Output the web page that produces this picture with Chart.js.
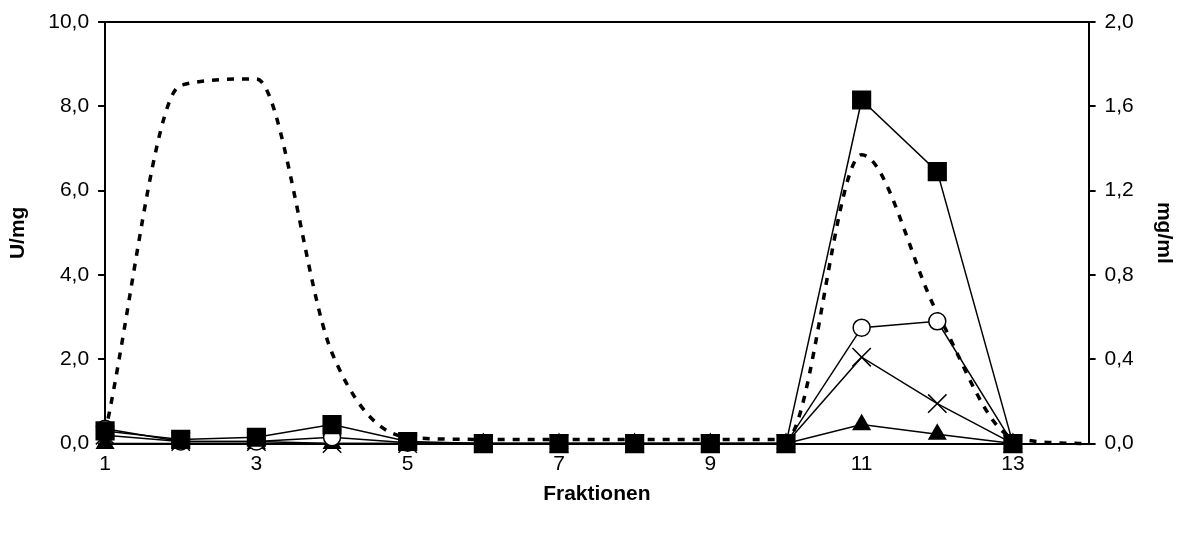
<!DOCTYPE html>
<html>
<head>
<meta charset="utf-8">
<script src="https://cdn.jsdelivr.net/npm/chart.js@4.4.1/dist/chart.umd.min.js"></script>
<style>
    html, body { margin: 0; padding: 0; background: #fff; }
    #wrap { width: 1180px; height: 533px; }
</style>
</head>
<body>
<div id="wrap"><canvas id="fraktChart"></canvas></div>
<script>
// Fraktionen (x values)
const fractions = [1, 2, 3, 4, 5, 6, 7, 8, 9, 10, 11, 12, 13, 14];
const xTicks = [1, 3, 5, 7, 9, 11, 13];

// U/mg (left axis)
const squares   = [0.30, 0.10, 0.15, 0.45, 0.05, 0, 0, 0, 0, 0, 8.15, 6.45, 0];
const circles   = [0.35, 0.05, 0.05, 0.15, 0.02, 0, 0, 0, 0, 0, 2.75, 2.90, 0];
const crosses   = [0.20, 0.05, 0.05, 0.00, 0.00, 0, 0, 0, 0, 0, 2.05, 0.95, 0];
const triangles = [0.00, 0.00, 0.00, 0.00, 0.00, 0, 0, 0, 0, 0, 0.45, 0.22, 0];

// mg/ml (right axis), dashed line
const protein = [0.05, 1.70, 1.73, 0.43, 0.03, 0.02, 0.02, 0.02, 0.02, 0.02, 1.37, 0.62, 0.03, 0];

const toXY = arr => arr.map((v, i) => ({ x: fractions[i], y: v }));
const fmt = d => v => v.toFixed(d).replace('.', ',');

// box line at the top of the plot area
const frame = {
    id: 'frame',
    afterDraw(chart) {
        const a = chart.chartArea, ctx = chart.ctx;
        ctx.save();
        ctx.strokeStyle = '#000';
        ctx.lineWidth = 2;
        ctx.beginPath();
        ctx.moveTo(a.left, a.top);
        ctx.lineTo(a.right, a.top);
        ctx.stroke();
        ctx.restore();
    }
};

Chart.defaults.font.family = '"Liberation Sans", Arial, sans-serif';
Chart.defaults.color = '#000';

const lineBase = {
    borderColor: '#000',
    borderWidth: 1.5,
    pointBorderColor: '#000',
    pointBorderWidth: 1.5,
    yAxisID: 'y',
    tension: 0,
    clip: false
};

new Chart(document.getElementById('fraktChart'), {
    type: 'line',
    data: {
        datasets: [{
            ...lineBase,
            data: toXY(squares),
            pointStyle: 'rect',
            pointRadius: 12.5,
            pointBackgroundColor: '#000'
        }, {
            ...lineBase,
            data: toXY(circles),
            pointStyle: 'circle',
            pointRadius: 8.5,
            pointBackgroundColor: '#fff'
        }, {
            ...lineBase,
            data: toXY(crosses),
            pointStyle: 'crossRot',
            pointRadius: 13,
            pointBackgroundColor: '#000'
        }, {
            ...lineBase,
            data: toXY(triangles),
            pointStyle: 'triangle',
            pointRadius: 9.5,
            pointBackgroundColor: '#000'
        }, {
            ...lineBase,
            data: toXY(protein),
            yAxisID: 'y2',
            borderWidth: 3.5,
            borderDash: [7, 8],
            cubicInterpolationMode: 'monotone',
            pointRadius: 0
        }]
    },
    options: {
        responsive: true,
        maintainAspectRatio: false,
        animation: false,
        layout: { padding: { top: 22, right: 4, left: 6, bottom: 26 } },
        plugins: {
            legend: { display: false },
            tooltip: { enabled: false }
        },
        scales: {
            x: {
                type: 'linear',
                min: 1,
                max: 14,
                afterBuildTicks: axis => { axis.ticks = xTicks.map(v => ({ value: v })); },
                grid: { display: false, drawTicks: false },
                border: { color: '#000', width: 2 },
                ticks: { font: { size: 21 }, padding: 8, callback: v => v },
                title: { display: true, text: 'Fraktionen', font: { size: 21, weight: 'bold' }, padding: { top: -3, bottom: 0 } }
            },
            y: {
                position: 'left',
                min: 0,
                max: 10,
                grid: { drawOnChartArea: false, color: '#000', tickLength: 7, lineWidth: 2 },
                border: { color: '#000', width: 2 },
                ticks: { stepSize: 2, font: { size: 21 }, padding: 9, callback: fmt(1) },
                title: { display: true, text: 'U/mg', font: { size: 21, weight: 'bold' }, padding: { top: 0, bottom: 8 } }
            },
            y2: {
                position: 'right',
                min: 0,
                max: 2,
                grid: { drawOnChartArea: false, color: '#000', tickLength: 7, lineWidth: 2 },
                border: { color: '#000', width: 2 },
                ticks: { stepSize: 0.4, font: { size: 21 }, padding: 9, callback: fmt(1) },
                title: { display: true, text: 'mg/ml', font: { size: 21, weight: 'bold' }, padding: { top: 0, bottom: 8 } }
            }
        }
    },
    plugins: [frame]
});
</script>
</body>
</html>
